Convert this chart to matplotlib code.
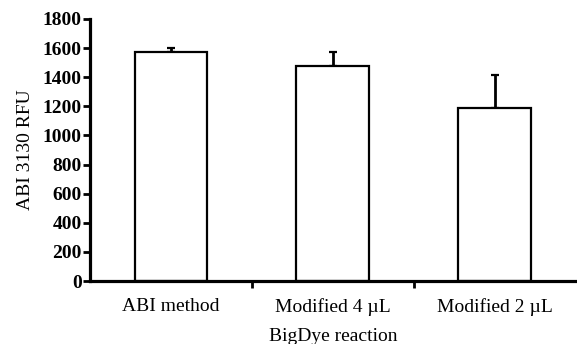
import matplotlib
matplotlib.use("Agg")
import matplotlib.pyplot as plt
from matplotlib.ticker import FixedLocator

categories = ["ABI method", "Modified 4 \u00b5L", "Modified 2 \u00b5L"]
values = [1575, 1480, 1185]
errors = [25, 95, 230]
yticks = [0, 200, 400, 600, 800, 1000, 1200, 1400, 1600, 1800]

plt.rcParams['font.family'] = ['Liberation Serif', 'DejaVu Serif']

fig = plt.figure(figsize=(5.77, 3.44), dpi=100)
ax = fig.add_axes([0.156, 0.183, 0.842, 0.762])

x = list(range(len(categories)))
ax.bar(x, values, width=0.45, color='white', edgecolor='black', linewidth=1.6, zorder=2)
ax.errorbar(x, values, yerr=[[0]*len(errors), errors], fmt='none', ecolor='black',
            elinewidth=2, capsize=3, capthick=1.6, zorder=1)

ax.set_xlim(-0.5, 2.5)
ax.set_ylim(0, 1800)
ax.set_yticks(yticks)
ax.set_yticklabels([str(t) for t in yticks], fontsize=14, fontweight='bold')

ax.set_xticks(x)
ax.set_xticklabels(categories, fontsize=14)
ax.tick_params(axis='x', which='major', length=0, pad=12)
ax.xaxis.set_minor_locator(FixedLocator([0.5, 1.5]))
ax.tick_params(axis='x', which='minor', length=5, width=2, direction='out')
ax.tick_params(axis='y', which='major', length=5, width=2, direction='out', pad=1)

for s in ['top', 'right']:
    ax.spines[s].set_visible(False)
for s in ['left', 'bottom']:
    ax.spines[s].set_linewidth(2.3)
    ax.spines[s].set_zorder(3)

ax.set_ylabel("ABI 3130 RFU", fontsize=14, labelpad=6)
ax.set_xlabel("BigDye reaction", fontsize=14, labelpad=9)

fig.savefig("out.png", dpi=100)
